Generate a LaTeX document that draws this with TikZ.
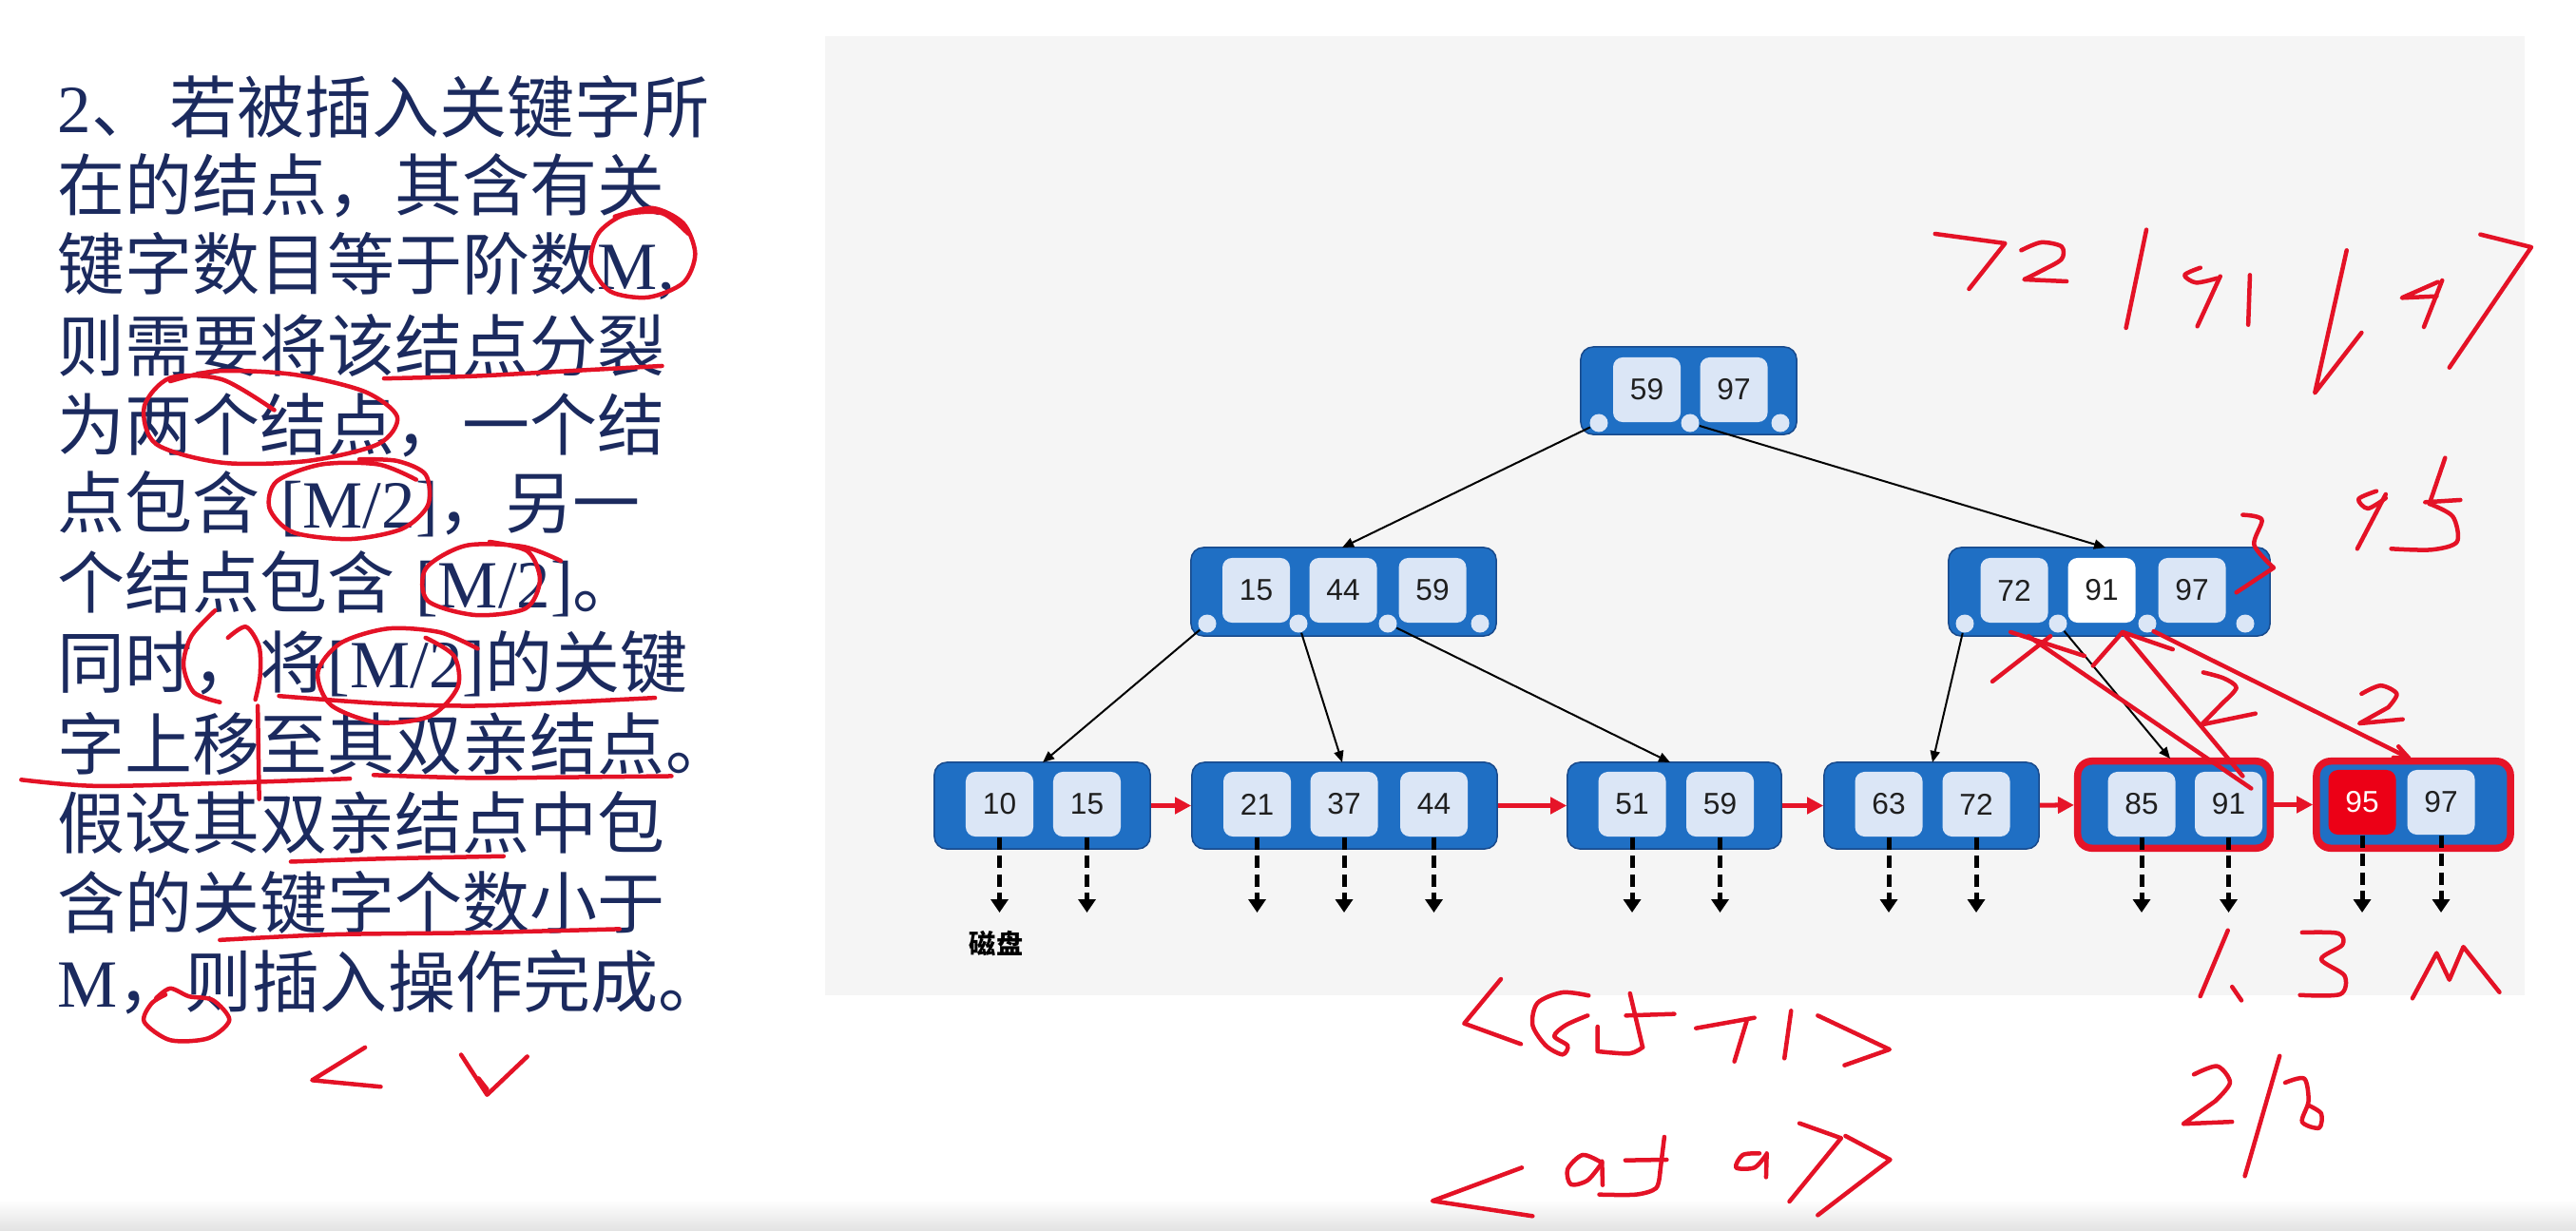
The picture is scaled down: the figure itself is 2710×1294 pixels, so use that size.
\documentclass[tikz,border=0pt]{standalone}
\usepackage{fontspec}
\usetikzlibrary{arrows.meta}
\newfontfamily\cjk{Noto Sans CJK SC}
\newfontfamily\latfont{Liberation Serif}
\newfontfamily\numfont{Liberation Sans}
\definecolor{ink}{RGB}{27,42,94}
\definecolor{panel}{RGB}{245,245,245}
\definecolor{nodeblue}{RGB}{31,111,196}
\definecolor{nodeedge}{RGB}{24,74,140}
\definecolor{keyfill}{RGB}{219,230,246}
\definecolor{linkred}{RGB}{230,20,40}
\definecolor{pen}{RGB}{228,18,38}
\definecolor{hotkey}{RGB}{236,0,22}
\newcommand{\lat}[1]{{\latfont #1}}

\begin{document}
\begin{tikzpicture}[x=0.01cm,y=-0.01cm,
  bnode/.style={draw=nodeedge, line width=0.015cm, fill=nodeblue, rounded corners=0.13cm, inner sep=0pt},
  hotnode/.style={draw=linkred, line width=0.075cm, fill=nodeblue, rounded corners=0.15cm, inner sep=0pt},
  keybox/.style={fill=keyfill, rounded corners=0.1cm, minimum width=0.71cm, minimum height=0.68cm,
    inner sep=0pt, font=\numfont\fontsize{9pt}{10pt}\selectfont, text=black!88},
  ptr/.style={circle, fill=keyfill, minimum size=0.19cm, inner sep=0pt},
  tree/.style={draw=black, line width=0.02cm, -{Triangle[length=0.12cm,width=0.1cm]}},
  link/.style={draw=linkred, line width=0.05cm, -{Triangle[length=0.17cm,width=0.17cm]}},
  drop/.style={draw=black, line width=0.05cm, dash pattern=on 0.13cm off 0.065cm,
    -{Triangle[length=0.14cm,width=0.18cm]}},
  hand/.style={draw=pen, line width=0.045cm, line cap=round, line join=round},
  txt/.style={anchor=west, inner sep=0pt, text=ink, font=\cjk\fontsize{20.2pt}{24pt}\selectfont}
]
\useasboundingbox (0,0) rectangle (2710,1294);
\fill[white] (0,0) rectangle (2710,1294);
\shade[top color=white, bottom color=black!11] (0,1262) rectangle (2710,1294);

% ---------------- explanation text ----------------
\node[txt] (t1)  at (60,112.0)  {\lat{2}、\hspace{0.16em}若被插入关键字所};
\node[txt] (t2)  at (60,195.7)  {在的结点，其含有关};
\node[txt] (t3)  at (60,279.5)  {键字数目等于阶数\lat{M,}};
\node[txt] (t4)  at (60,363.2)  {则需要将该结点分裂};
\node[txt] (t5)  at (60,447.0)  {为两个结点，一个结};
\node[txt] (t6)  at (60,530.7)  {点包含\hspace{0.3em}\lat{[M/2]}，另一};
\node[txt] (t7)  at (60,614.4)  {个结点包含\hspace{0.3em}\lat{[M/2]}。};
\node[txt] (t8)  at (60,698.2)  {同时，将\lat{[M/2]}的关键};
\node[txt] (t9)  at (60,781.9)  {字上移至其双亲结点。};
\node[txt] (t10) at (60,865.7)  {假设其双亲结点中包};
\node[txt] (t11) at (60,949.4)  {含的关键字个数小于};
\node[txt] (t12) at (60,1033.1) {\lat{M}，则插入操作完成。};

% ---------------- B+ tree panel ----------------
\fill[panel] (868,38) rectangle (2656,1047);

% root
\node[bnode, minimum width=2.27cm, minimum height=0.92cm] (root) at (1776.5,411) {};
\node[keybox] (root-k1) at (1732.5,410) {59};
\node[keybox] (root-k2) at (1824,410) {97};
\node[ptr] (root-p1) at (1682,445) {};
\node[ptr] (root-p2) at (1778,445) {};
\node[ptr] (root-p3) at (1873,445) {};

% inner level
\node[bnode, minimum width=3.21cm, minimum height=0.93cm] (n1) at (1413.5,622.5) {};
\node[keybox] (n1-k1) at (1321.5,621) {15};
\node[keybox] (n1-k2) at (1413,621) {44};
\node[keybox] (n1-k3) at (1507,621) {59};
\node[ptr] (n1-p1) at (1270,656) {};
\node[ptr] (n1-p2) at (1366,656) {};
\node[ptr] (n1-p3) at (1460,656) {};
\node[ptr] (n1-p4) at (1557,656) {};

\node[bnode, minimum width=3.38cm, minimum height=0.93cm] (n2) at (2219,622.5) {};
\node[keybox] (n2-k1) at (2119,621) {72};
\node[keybox, fill=white] (n2-k2) at (2211,621) {91};
\node[keybox] (n2-k3) at (2306,621) {97};
\node[ptr] (n2-p1) at (2067,656) {};
\node[ptr] (n2-p2) at (2165,656) {};
\node[ptr] (n2-p3) at (2259,656) {};
\node[ptr] (n2-p4) at (2362,656) {};

% leaves
\node[bnode, minimum width=2.27cm, minimum height=0.91cm] (l1) at (1096.5,847.5) {};
\node[keybox] (l1-k1) at (1051.5,846) {10};
\node[keybox] (l1-k2) at (1143.5,846) {15};

\node[bnode, minimum width=3.21cm, minimum height=0.91cm] (l2) at (1414.5,847.5) {};
\node[keybox] (l2-k1) at (1322.5,846) {21};
\node[keybox] (l2-k2) at (1414,846) {37};
\node[keybox] (l2-k3) at (1508.5,846) {44};

\node[bnode, minimum width=2.25cm, minimum height=0.91cm] (l3) at (1761.5,847.5) {};
\node[keybox] (l3-k1) at (1717,846) {51};
\node[keybox] (l3-k2) at (1809.5,846) {59};

\node[bnode, minimum width=2.26cm, minimum height=0.91cm] (l4) at (2032,847.5) {};
\node[keybox] (l4-k1) at (1987,846) {63};
\node[keybox] (l4-k2) at (2079,846) {72};

\node[hotnode, minimum width=2.025cm, minimum height=0.915cm] (l5) at (2287,846.5) {};
\node[keybox] (l5-k1) at (2253,846) {85};
\node[keybox] (l5-k2) at (2344.5,846) {91};

\node[hotnode, minimum width=2.04cm, minimum height=0.915cm] (l6) at (2539,846.5) {};
\node[keybox, fill=hotkey, text=white] (l6-k1) at (2485,844) {95};
\node[keybox] (l6-k2) at (2568,844) {97};

% tree pointers
\coordinate (n1-in) at (1412,576);
\coordinate (n2-in) at (2215,576);
\coordinate (l1-in) at (1097,802);
\coordinate (l2-in) at (1412,802);
\coordinate (l3-in) at (1757,802);
\coordinate (l4-in) at (2033,802);
\coordinate (l5-in) at (2283,798);
\draw[tree] (root-p1) -- (n1-in);
\draw[tree] (root-p2) -- (n2-in);
\draw[tree] (n1-p1) -- (l1-in);
\draw[tree] (n1-p2) -- (l2-in);
\draw[tree] (n1-p3) -- (l3-in);
\draw[tree] (n2-p1) -- (l4-in);
\draw[tree] (n2-p2) -- (l5-in);

% leaf chain
\draw[link] (l1) -- (l2);
\draw[link] (l2) -- (l3);
\draw[link] (l3) -- (l4);
\draw[link] (l4) -- (l5);
\draw[link] (l5) -- (l6);

% record pointers down to disk
\coordinate (floor) at (0,960);
\foreach \k in {l1-k1,l1-k2,l2-k1,l2-k2,l2-k3,l3-k1,l3-k2,l4-k1,l4-k2,l5-k1,l5-k2,l6-k1,l6-k2}{
  \coordinate (\k-end) at (\k.south |- floor);
  \draw[drop] (\k.south) -- (\k-end);
}
\node[font=\cjk\bfseries\fontsize{8pt}{9pt}\selectfont, text=black] (disk) at (1048,992) {磁盘};

% ---------------- pen marks on the text ----------------
\begin{scope}[shift={(0,60)}, xscale=0.4975, yscale=0.3571]
  \draw[hand] plot[smooth] coordinates {(1300,470) (1380,445) (1445,490) (1470,580) (1445,665) (1370,708) (1290,690) (1250,610) (1265,520) (1320,465) (1400,460) (1455,520)};
  \draw[hand] plot[smooth] coordinates {(812,947) (1000,940) (1200,925) (1400,910)};
  \draw[hand] plot[smooth] coordinates {(580,1040) (470,950) (360,945) (305,1030) (330,1140) (470,1195) (650,1190) (800,1140) (840,1060) (770,985) (620,935) (460,925) (360,955)};
  \draw[hand] plot[smooth] coordinates {(880,1245) (800,1200) (680,1200) (585,1250) (570,1330) (620,1400) (740,1420) (850,1390) (905,1320) (900,1230) (840,1190) (760,1185)};
\end{scope}
\draw[hand] plot[smooth] coordinates {(590,590) (550,575) (490,574) (448,598) (450,632) (500,647) (553,640) (568,610) (555,580) (515,570)};
\begin{scope}[shift={(0,600)}, xscale=0.4975, yscale=0.3831]
  \draw[hand] plot[smooth] coordinates {(455,110) (405,180) (388,260) (410,335) (465,362)};
  \draw[hand] plot[smooth] coordinates {(482,185) (520,155) (548,210) (550,290) (540,355)};
  \draw[hand] (545,372) -- (548,628);
  \draw[hand] plot[smooth] coordinates {(1010,215) (930,170) (820,160) (720,200) (672,280) (700,370) (800,418) (910,400) (968,320) (960,235) (900,185)};
  \draw[hand] plot[smooth] coordinates {(590,345) (800,365) (1000,372) (1200,362) (1385,350)};
  \draw[hand] plot[smooth] coordinates {(45,575) (200,592) (450,585) (740,572)};
  \draw[hand] plot[smooth] coordinates {(790,562) (1000,570) (1200,568) (1420,565)};
  \draw[hand] plot[smooth] coordinates {(615,800) (800,792) (1065,785)};
  \draw[hand] plot[smooth] coordinates {(465,1015) (700,1000) (1000,995) (1310,985)};
  \draw[hand] plot[smooth] coordinates {(330,1175) (360,1148) (400,1170) (450,1180) (485,1235) (440,1285) (360,1290) (305,1240) (320,1190) (350,1165)};
  \draw[hand] (772,1310) -- (660,1400) -- (805,1418);
  \draw[hand] (975,1330) -- (1030,1440) -- (1115,1335);
  \draw[hand] (1012,1395) -- (1030,1425);
\end{scope}

% ---------------- pen marks on the tree ----------------
\begin{scope}[shift={(2000,200)}, xscale=0.4464, yscale=0.3333]
  \draw[hand] (80,138) -- (245,168) -- (160,312);
  \draw[hand] plot[smooth] coordinates {(283,190) (330,165) (378,178) (378,218) (330,255) (290,282)} -- (390,288);
  \draw[hand] (578,125) -- (530,435);
  \draw[hand] plot[smooth] coordinates {(705,245) (668,268) (695,292) (745,278)};
  \draw[hand] (752,272) -- (698,430);
  \draw[hand] (822,268) -- (818,425);
  \draw[hand] (1050,190) -- (975,640) -- (1085,450);
  \draw[hand] (1265,290) -- (1180,340) -- (1262,335);
  \draw[hand] (1275,285) -- (1232,432);
  \draw[hand] (1365,140) -- (1485,180) -- (1292,560);
  \draw[hand] plot[smooth] coordinates {(805,1025) (850,1040) (832,1120) (878,1192)} -- (790,1270);
  \draw[hand] plot[smooth] coordinates {(1120,950) (1078,975) (1100,1005) (1142,972)};
  \draw[hand] (1142,960) -- (1075,1132);
  \draw[hand] (1282,845) -- (1245,990);
  \draw[hand] (1235,985) -- (1318,978);
  \draw[hand] plot[smooth] coordinates {(1245,990) (1300,1030) (1310,1110) (1250,1135) (1155,1132)};
\end{scope}
\begin{scope}[shift={(2000,600)}, xscale=0.4464, yscale=0.4329]
  \draw[hand] (215,270) -- (352,160);
  \draw[hand] (258,150) -- (432,208);
  \draw[hand] (300,160) -- (825,530);
  \draw[hand] (452,232) -- (522,150) -- (640,192);
  \draw[hand] (522,150) -- (805,500);
  \draw[hand] plot[smooth] coordinates {(712,248) (760,262) (790,285) (760,320)} -- (708,375) -- (835,348);
  \draw[hand] (595,148) -- (1195,455);
  \draw[hand] (1172,428) -- (1197,457) -- (1160,455);
  \draw[hand] plot[smooth] coordinates {(1085,300) (1130,280) (1168,300) (1148,333)} -- (1080,372) -- (1182,362);
  \draw[hand] (770,875) -- (705,1035);
  \draw[hand] (780,1012) -- (802,1045);
  \draw[hand] plot[smooth] coordinates {(945,880) (1030,882) (1040,910) (990,945) (1045,985) (1035,1030) (940,1032)};
  \draw[hand] (1205,1040) -- (1262,930) -- (1292,995) -- (1325,915) -- (1410,1025);
  \draw[hand] plot[smooth] coordinates {(690,1225) (745,1205) (775,1245) (740,1290)} -- (665,1345) -- (780,1340);
  \draw[hand] (892,1180) -- (810,1472);
  \draw[hand] plot[smooth] coordinates {(905,1245) (950,1235) (960,1290) (945,1340) (985,1355) (990,1320) (960,1300)};
\end{scope}
\begin{scope}[shift={(1500,1000)}, xscale=0.3509, yscale=0.3333]
  \draw[hand] (225,90) -- (115,230) -- (285,295);
  \draw[hand] plot[smooth] coordinates {(488,142) (410,132) (335,165) (320,235) (360,300) (410,328) (425,300) (385,270) (420,235) (485,205)};
  \draw[hand] (612,135) -- (650,305);
  \draw[hand] plot[smooth] coordinates {(650,305) (610,325) (515,318)} -- (515,240);
  \draw[hand] (600,205) -- (745,200);
  \draw[hand] (810,245) -- (985,212);
  \draw[hand] (962,222) -- (925,350);
  \draw[hand] (1095,190) -- (1075,340);
  \draw[hand] (1175,205) -- (1390,312) -- (1255,362);
  \draw[hand] (288,685) -- (20,790) -- (320,838);
  \draw[hand] plot[smooth] coordinates {(525,668) (470,645) (425,690) (435,738) (485,725) (528,670)};
  \draw[hand] (528,665) -- (530,740);
  \draw[hand] (715,588) -- (702,700);
  \draw[hand] plot[smooth] coordinates {(702,700) (690,750) (630,770) (520,770)};
  \draw[hand] (598,662) -- (722,660);
  \draw[hand] plot[smooth] coordinates {(1000,640) (950,645) (930,685) (985,685) (1020,645)};
  \draw[hand] (1022,640) -- (1020,715);
  \draw[hand] (1120,545) -- (1245,592) -- (1090,792);
  \draw[hand] (1258,585) -- (1392,660) -- (1175,835);
\end{scope}
\end{tikzpicture}
\end{document}
